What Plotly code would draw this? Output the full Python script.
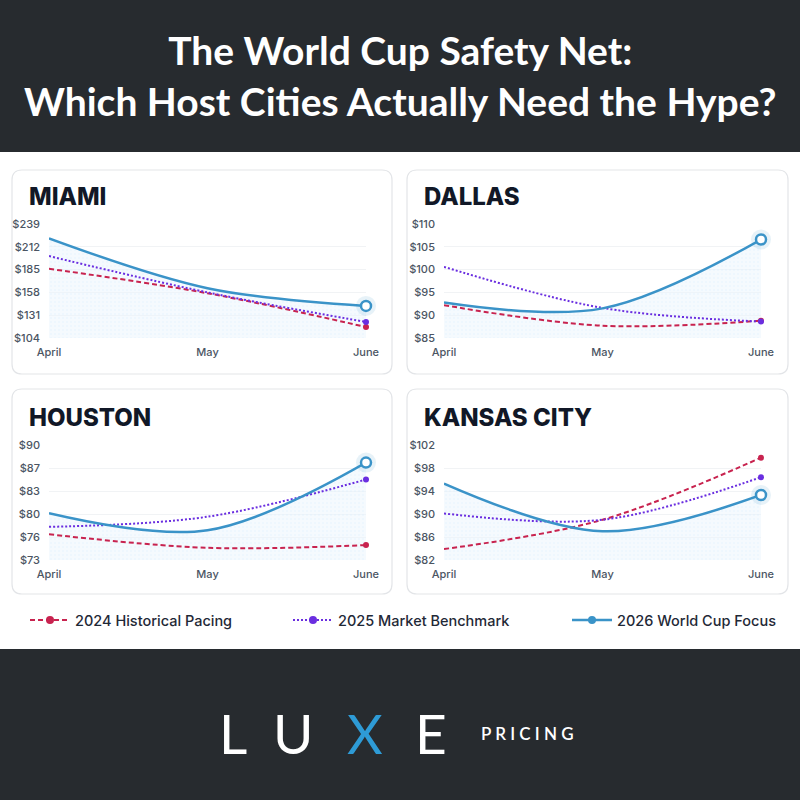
import numpy as np
import plotly.graph_objects as go

# ---------------- data ----------------
months = ["April", "May", "June"]
series_names = ["2024 Historical Pacing", "2025 Market Benchmark", "2026 World Cup Focus"]
city_names = ["MIAMI", "DALLAS", "HOUSTON", "KANSAS CITY"]

miami_2024 = [186, 157, 117]
miami_2025 = [201, 158, 123]
miami_2026 = [222, 163, 142]

dallas_2024 = [92.2, 87.7, 88.8]
dallas_2025 = [100.6, 91.6, 88.6]
dallas_2026 = [92.8, 91.5, 106.6]

houston_2024 = [76.8, 74.8, 75.2]
houston_2025 = [77.9, 79.4, 84.9]
houston_2026 = [79.9, 77.4, 87.4]

kc_2024 = [83.9, 89.0, 99.8]
kc_2025 = [90.1, 89.0, 96.4]
kc_2026 = [95.3, 87.0, 93.3]

miami_ticks = ["$104", "$131", "$158", "$185", "$212", "$239"]
dallas_ticks = ["$85", "$90", "$95", "$100", "$105", "$110"]
houston_ticks = ["$73", "$76", "$80", "$83", "$87", "$90"]
kc_ticks = ["$82", "$86", "$90", "$94", "$98", "$102"]

miami_range = [104, 239]
dallas_range = [85, 110]
houston_range = [73, 90]
kc_range = [82, 102]

# ---------------- styling ----------------
W = H = 800
RED = "#c8234f"
PURPLE = "#6a2ee0"
BLUE = "#3a93c8"
DARK = "#272b2f"
TITLE_COLOR = "#111827"
TICK_COLOR = "#4b5563"

def px_x(x):
    return x / W

def px_y(y):
    return 1 - y / H

panels = [
    dict(name=city_names[0], d24=miami_2024, d25=miami_2025, d26=miami_2026,
         ticks=miami_ticks, rng=miami_range, card=(12, 170, 392, 374),
         dom_x=(49, 366), dom_y=(224, 338), title_y=197),
    dict(name=city_names[1], d24=dallas_2024, d25=dallas_2025, d26=dallas_2026,
         ticks=dallas_ticks, rng=dallas_range, card=(407, 170, 788, 374),
         dom_x=(444, 761), dom_y=(224, 338), title_y=197),
    dict(name=city_names[2], d24=houston_2024, d25=houston_2025, d26=houston_2026,
         ticks=houston_ticks, rng=houston_range, card=(12, 389, 392, 594),
         dom_x=(49, 366), dom_y=(445, 560), title_y=417),
    dict(name=city_names[3], d24=kc_2024, d25=kc_2025, d26=kc_2026,
         ticks=kc_ticks, rng=kc_range, card=(407, 389, 788, 594),
         dom_x=(444, 761), dom_y=(445, 560), title_y=417),
]

fig = go.Figure()
shapes = []
annotations = []

# header and footer bands
shapes.append(dict(type="rect", xref="paper", yref="paper", x0=0, x1=1,
                   y0=px_y(152), y1=1, fillcolor=DARK, line=dict(width=0), layer="below"))
shapes.append(dict(type="rect", xref="paper", yref="paper", x0=0, x1=1,
                   y0=0, y1=px_y(649), fillcolor=DARK, line=dict(width=0), layer="below"))


def rounded_path(x0, y0, x1, y1, r):
    X = lambda v: f"{px_x(v):.5f}"
    Y = lambda v: f"{px_y(v):.5f}"
    return (f"M {X(x0 + r)},{Y(y0)} L {X(x1 - r)},{Y(y0)} Q {X(x1)},{Y(y0)} {X(x1)},{Y(y0 + r)} "
            f"L {X(x1)},{Y(y1 - r)} Q {X(x1)},{Y(y1)} {X(x1 - r)},{Y(y1)} "
            f"L {X(x0 + r)},{Y(y1)} Q {X(x0)},{Y(y1)} {X(x0)},{Y(y1 - r)} "
            f"L {X(x0)},{Y(y0 + r)} Q {X(x0)},{Y(y0)} {X(x0 + r)},{Y(y0)} Z")


for i, p in enumerate(panels):
    ax = "" if i == 0 else str(i + 1)
    xa, ya = "x" + ax, "y" + ax
    x0, y0, x1, y1 = p["card"]
    shapes.append(dict(type="path", xref="paper", yref="paper",
                       path=rounded_path(x0, y0, x1, y1, 10),
                       fillcolor="white", line=dict(color="#e3e5e8", width=1.2), layer="below"))
    annotations.append(dict(text=p["name"], xref="paper", yref="paper",
                            x=px_x(x0 + 15), y=px_y(p["title_y"]), xanchor="left", yanchor="middle",
                            showarrow=False,
                            font=dict(family="Inter", size=24, color=TITLE_COLOR, weight=800)))

    lo, hi = p["rng"]
    tickvals = list(np.linspace(lo, hi, len(p["ticks"])))

    fig.update_layout(**{
        ("xaxis" + ax): dict(domain=[px_x(p["dom_x"][0]), px_x(p["dom_x"][1])],
                             anchor=ya, type="category", range=[0, 2],
                             showgrid=False, zeroline=False, showline=False, ticks="",
                             ticklabelstandoff=6,
                             tickfont=dict(family="Inter", size=11, color=TICK_COLOR, weight=500),
                             fixedrange=True),
        ("yaxis" + ax): dict(domain=[px_y(p["dom_y"][1]), px_y(p["dom_y"][0])],
                             anchor=xa, range=[lo, hi], tickvals=tickvals, ticktext=p["ticks"],
                             showgrid=True, gridcolor="#f1f3f5", gridwidth=1,
                             zeroline=False, showline=False, ticks="", ticklabelstandoff=8,
                             tickfont=dict(family="Inter", size=11, color=TICK_COLOR, weight=500),
                             fixedrange=True),
    })

    # light dotted fill below the 2026 line
    fig.add_trace(go.Scatter(
        x=months, y=p["d26"], xaxis=xa, yaxis=ya, mode="lines",
        line=dict(width=0, shape="spline", smoothing=1), fill="tozeroy",
        fillcolor="rgba(235,246,253,0.5)",
        fillpattern=dict(shape=".", fgcolor="rgba(200,230,248,0.45)", size=4, solidity=0.2),
        showlegend=False, hoverinfo="skip"))

    # 2024 dashed
    fig.add_trace(go.Scatter(
        x=months, y=p["d24"], xaxis=xa, yaxis=ya, mode="lines",
        line=dict(color=RED, width=2, dash="5px,3px", shape="spline", smoothing=1),
        showlegend=False, name=series_names[0]))
    # 2025 dotted
    fig.add_trace(go.Scatter(
        x=months, y=p["d25"], xaxis=xa, yaxis=ya, mode="lines",
        line=dict(color=PURPLE, width=2, dash="2px,2px", shape="spline", smoothing=1),
        showlegend=False, name=series_names[1]))
    # 2026 solid
    fig.add_trace(go.Scatter(
        x=months, y=p["d26"], xaxis=xa, yaxis=ya, mode="lines",
        line=dict(color=BLUE, width=2.5, shape="spline", smoothing=1),
        showlegend=False, name=series_names[2]))

    # end markers (last month)
    fig.add_trace(go.Scatter(
        x=months[-1:], y=p["d24"][-1:], xaxis=xa, yaxis=ya, mode="markers",
        marker=dict(color=RED, size=6), cliponaxis=False, showlegend=False))
    fig.add_trace(go.Scatter(
        x=months[-1:], y=p["d25"][-1:], xaxis=xa, yaxis=ya, mode="markers",
        marker=dict(color=PURPLE, size=6), cliponaxis=False, showlegend=False))
    fig.add_trace(go.Scatter(
        x=months[-1:], y=p["d26"][-1:], xaxis=xa, yaxis=ya, mode="markers",
        marker=dict(color="rgba(58,147,200,0.12)", size=20), cliponaxis=False, showlegend=False))
    fig.add_trace(go.Scatter(
        x=months[-1:], y=p["d26"][-1:], xaxis=xa, yaxis=ya, mode="markers",
        marker=dict(color="white", size=10, line=dict(color=BLUE, width=2.5)),
        cliponaxis=False, showlegend=False))

# legend-only traces, one legend each
legend_styles = [
    dict(color=RED, dash="5px,3px"),
    dict(color=PURPLE, dash="2px,2px"),
    dict(color=BLUE, dash="solid"),
]
legend_ids = ["legend", "legend2", "legend3"]
for name, st, lid in zip(series_names, legend_styles, legend_ids):
    fig.add_trace(go.Scatter(
        x=[None], y=[None], mode="lines+markers", name=name, legend=lid,
        line=dict(color=st["color"], width=2.5 if lid == "legend3" else 2, dash=st["dash"]),
        marker=dict(color=st["color"], size=8), showlegend=True))

legend_common = dict(orientation="h", yanchor="middle", xanchor="left", y=px_y(620),
                     bgcolor="rgba(0,0,0,0)", borderwidth=0, itemwidth=40,
                     font=dict(family="Inter", size=14.5, color="#1f2937", weight=500))
fig.update_layout(
    legend=dict(x=px_x(25), **legend_common),
    legend2=dict(x=px_x(288), **legend_common),
    legend3=dict(x=px_x(567), **legend_common),
)

# title
annotations.append(dict(
    text="The World Cup Safety Net:<br>Which Host Cities Actually Need the Hype?",
    xref="paper", yref="paper", x=0.5, y=px_y(76), xanchor="center", yanchor="middle",
    showarrow=False, font=dict(family="Lato", size=39, color="white", weight=700)))

# logo
for letter, cx, col in [("L", 233, "white"), ("U", 293, "white"), ("X", 365, "#2e9bd6"), ("E", 431, "white")]:
    annotations.append(dict(text=letter, xref="paper", yref="paper", x=px_x(cx), y=px_y(733),
                            xanchor="center", yanchor="middle", showarrow=False,
                            font=dict(family="Lato", size=55, color=col, weight=400)))
annotations.append(dict(text="\u00a0".join("PRICING"), xref="paper", yref="paper",
                        x=px_x(527), y=px_y(733), xanchor="center", yanchor="middle",
                        showarrow=False, font=dict(family="Lato", size=17, color="white", weight=600)))

fig.update_layout(
    width=W, height=H, margin=dict(l=0, r=0, t=0, b=0, pad=0, autoexpand=False),
    paper_bgcolor="white", plot_bgcolor="rgba(0,0,0,0)",
    shapes=shapes, annotations=annotations, hovermode=False,
)

fig.write_html("out.html", config={"displayModeBar": False})
